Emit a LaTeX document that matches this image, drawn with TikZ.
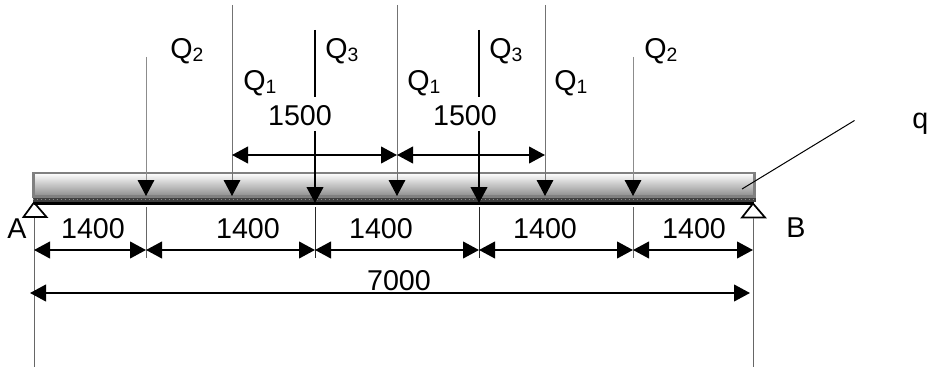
\documentclass[tikz,border=0pt]{standalone}
\usepackage{fontspec}
\setmainfont{Liberation Sans}
\usetikzlibrary{arrows.meta}
\newcommand{\Qsub}[1]{Q\raisebox{-0.1em}{\fontsize{14.5}{15}\selectfont #1}}
\tikzset{
  x=0.75pt,y=-0.75pt,
  headtip/.tip={Triangle[length=12pt,width=12.5pt,color=black,fill=black]},
  lab/.style={inner sep=0pt,anchor=base,font=\fontsize{21.5}{24}\selectfont,text=black},
  labw/.style={lab,anchor=base west},
  dim/.style={line width=1.5pt,black,{headtip}-{headtip},shorten <=0pt,shorten >=0pt},
  wit/.style={line width=0.75pt,color=black!60},
  witdark/.style={line width=0.75pt,color=black!85},
  loadlight/.style={line width=0.75pt,color=black!45,-{headtip}},
  loadmid/.style={line width=0.75pt,color=black!55,-{headtip}},
  loadheavy/.style={line width=1.5pt,black},
  support/.style={draw=black,fill=white,line width=1.3pt,line join=miter},
  beam/.style={draw=black!50,line width=2pt,top color=white,bottom color=black!45},
}
\begin{document}
\begin{tikzpicture}
\useasboundingbox (0,0) rectangle (930,367);
% named anchor points
\foreach \n/\x in {a/34,bb/753,ql/146,qa/232,qm/315,qb/397,qn/479,qc/545,qr/633}{
  \coordinate (\n top) at (\x,5);
  \coordinate (\n arr) at (\x,196);
  \coordinate (\n beam) at (\x,203);
  \coordinate (\n low) at (\x,207);
  \coordinate (\n dimlow) at (\x,250);
  \coordinate (\n dimhigh) at (\x,155);
  \coordinate (\n end) at (\x,258);
}
% supports
\draw[support] (34,202.5) -- (23.5,217) -- (46.5,217) -- cycle;
\draw[support] (753,203.5) -- (742,217.5) -- (765,217.5) -- cycle;
% beam
\node[beam,minimum width=721*0.75pt,minimum height=23.5*0.75pt,inner sep=0pt,outer sep=0pt,anchor=north west] (beambody) at (33.6,173) {};
\fill[black!75] (32.5,198) rectangle (755.5,202);
\draw[black!45,line width=0.75pt,dash pattern=on 1pt off 2pt] (32.5,199.5) -- (755.5,199.5);
\fill[black] (34,202) rectangle (754,205);
% witness lines
\coordinate (aw1) at (34,218); \coordinate (aw2) at (34,367);
\coordinate (bw1) at (753.5,218); \coordinate (bw2) at (753.5,367);
\draw[wit] (aw1) -- (aw2);
\draw[wit] (bw1) -- (bw2);
\draw[wit] (qllow) -- (qlend);
\draw[wit] (qrlow) -- (qrend);
\draw[witdark] (qmlow) -- (qmend);
\draw[witdark] (qnlow) -- (qnend);
% loads
\coordinate (qls) at (146,57);
\coordinate (qrs) at (633,57);
\draw[loadlight] (qls) -- (qlarr);
\draw[loadlight] (qrs) -- (qrarr);
\draw[loadmid] (qatop) -- (qaarr);
\draw[loadmid] (qbtop) -- (qbarr);
\draw[loadmid] (qctop) -- (qcarr);
\coordinate (qm1) at (315,30); \coordinate (qm2) at (315,97); \coordinate (qm3) at (315,131);
\coordinate (qn1) at (479,30); \coordinate (qn2) at (479,97); \coordinate (qn3) at (479,131);
\draw[loadheavy] (qm1) -- (qm2);
\draw[loadheavy] (qn1) -- (qn2);
\draw[loadheavy,-{headtip}] (qm3) -- (qmbeam);
\draw[loadheavy,-{headtip}] (qn3) -- (qnbeam);
% dimensions
\draw[dim] (qadimhigh) -- (qbdimhigh);
\draw[dim] (qbdimhigh) -- (qcdimhigh);
\draw[dim] (adimlow) -- (qldimlow);
\draw[dim] (qldimlow) -- (qmdimlow);
\draw[dim] (qmdimlow) -- (qndimlow);
\draw[dim] (qndimlow) -- (qrdimlow);
\draw[dim] (qrdimlow) -- (bbdimlow);
\coordinate (tl) at (30,293); \coordinate (tr) at (750,293);
\draw[dim] (tl) -- (tr);
% q leader
\coordinate (ql1) at (854.5,120.5); \coordinate (ql2) at (742,189);
\draw[line width=0.75pt,black] (ql1) -- (ql2);
% labels
\node[lab] (d1) at (93,238) {1400};
\node[lab] (d2) at (248,238) {1400};
\node[lab] (d3) at (381,238) {1400};
\node[lab] (d4) at (545,238) {1400};
\node[lab] (d5) at (694,238) {1400};
\node[lab] (d6) at (399,290) {7000};
\node[lab] (d7) at (300,126) {1500};
\node[lab] (d8) at (465,126) {1500};
\node[labw] (lA) at (7,238) {A};
\node[labw] (lB) at (786,237) {B};
\node[labw] (lq) at (912,128) {q};
\node[labw] (q2l) at (170,59) {\Qsub{2}};
\node[labw] (q2r) at (644,59) {\Qsub{2}};
\node[labw] (q3l) at (325,59) {\Qsub{3}};
\node[labw] (q3r) at (489,59) {\Qsub{3}};
\node[labw] (q1a) at (243,91) {\Qsub{1}};
\node[labw] (q1b) at (407,91) {\Qsub{1}};
\node[labw] (q1c) at (554,91) {\Qsub{1}};
\end{tikzpicture}
\end{document}
